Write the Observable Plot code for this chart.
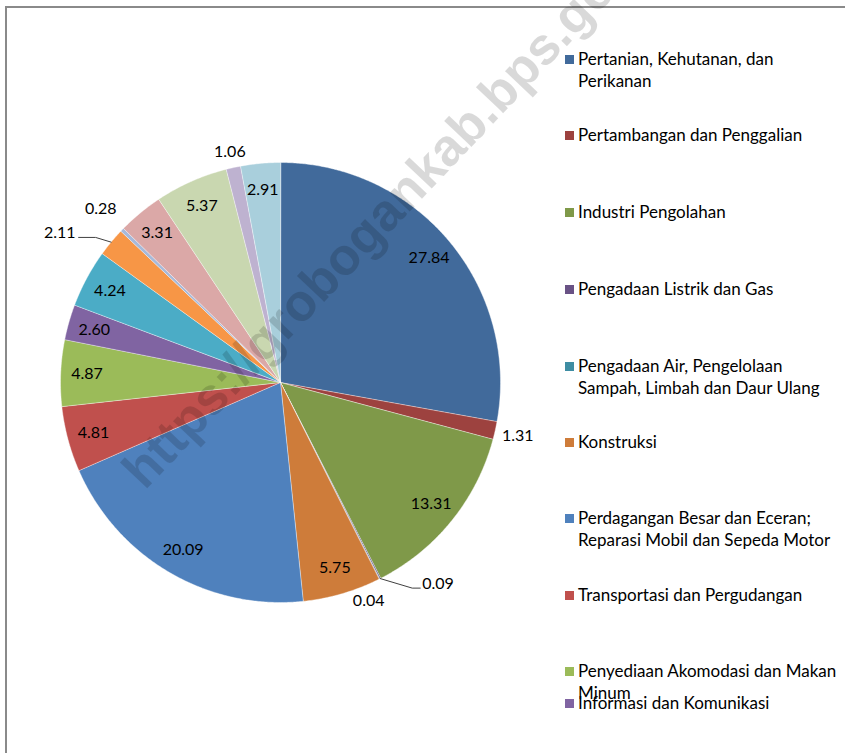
<!DOCTYPE html>
<html><head><meta charset="utf-8">
<script src="https://cdn.jsdelivr.net/npm/d3@7"></script>
<script src="https://cdn.jsdelivr.net/npm/@observablehq/plot@0.6"></script>
<style>
html,body{margin:0;padding:0;background:#fff;overflow:hidden;}
#wrap{position:relative;width:845px;height:753px;overflow:hidden;font-family:Lato,"Open Sans",sans-serif;background:#fff;}
#frame{position:absolute;left:5px;top:6px;width:900px;height:800px;border-left:2px solid #8a8a8a;border-top:2px solid #8a8a8a;box-sizing:border-box;}
#chart{position:absolute;left:0;top:0;}
.item{position:absolute;left:565px;font-size:17px;line-height:22px;color:#000;white-space:nowrap;}
.sw{position:absolute;left:0;top:7px;width:9px;height:9px;}
.txt{position:absolute;left:13px;top:0;}
#wm{position:absolute;left:147px;top:446px;font-family:"Liberation Sans",Arial,sans-serif;font-weight:bold;font-size:52px;line-height:52px;color:rgba(0,0,0,0.15);white-space:nowrap;transform-origin:0 47px;transform:rotate(-46.5deg);pointer-events:none;}
</style></head>
<body>
<div id="wrap">
  <div id="frame"></div>
  <div id="chart"></div>
  <div id="legend"></div>
  <div id="wm">https://grobogankab.bps.go.id</div>
</div>
<script>
// ---- data ----
const categories = [
  "Pertanian, Kehutanan, dan Perikanan",
  "Pertambangan dan Penggalian",
  "Industri Pengolahan",
  "Pengadaan Listrik dan Gas",
  "Pengadaan Air, Pengelolaan Sampah, Limbah dan Daur Ulang",
  "Konstruksi",
  "Perdagangan Besar dan Eceran; Reparasi Mobil dan Sepeda Motor",
  "Transportasi dan Pergudangan",
  "Penyediaan Akomodasi dan Makan Minum",
  "Informasi dan Komunikasi",
  "Jasa Keuangan dan Asuransi",
  "Real Estate",
  "Jasa Perusahaan",
  "Administrasi Pemerintahan, Pertahanan dan Jaminan Sosial Wajib",
  "Jasa Pendidikan",
  "Jasa Kesehatan dan Kegiatan Sosial",
  "Jasa Lainnya"
];
const values = [27.84, 1.31, 13.31, 0.09, 0.04, 5.75, 20.09, 4.81, 4.87, 2.60, 4.24, 2.11, 0.28, 3.31, 5.37, 1.06, 2.91];
const valueLabels = ["27.84","1.31","13.31","0.09","0.04","5.75","20.09","4.81","4.87","2.60","4.24","2.11","0.28","3.31","5.37","1.06","2.91"];

// ---- styles / layout (kept separate from data) ----
const colors = ["#416A9B","#9D423F","#7F9949","#695285","#3E8DA3","#CE7C3A",
                "#4F81BD","#C0504D","#9BBB59","#8064A2","#4BACC6","#F79646",
                "#A7B9D9","#DBA8A7","#C9D7B0","#BEB2D0","#A9CFDC"];
const W = 845, H = 753, CX = 280, CY = 382, R = 220;
const insideR = 0.88;
const labelLayout = {
  1:  {r: 1.105},
  3:  {angle: 145.8, r: 1.13, leader: true, anchor: "start", elbow: 8},
  4:  {angle: 158, r: 1.07},
  11: {angle: 305.7, r: 1.13, leader: true, anchor: "end", elbow: 17},
  12: {r: 1.135},
  15: {r: 1.073}
};
const legendRowY = [59, 135, 212, 289, 366, 442, 518, 595, 671, 703];
const legendBreakAfter = {0: 3, 4: 3, 6: 4, 8: 4};

// ---- geometry ----
const total = d3.sum(values);
const deg = Math.PI / 180;
const polar = (a, r) => [CX + r * Math.sin(a), CY - r * Math.cos(a)];
let acc = 0;
const slices = values.map((v, i) => {
  const a0 = acc / total * 2 * Math.PI; acc += v;
  const a1 = acc / total * 2 * Math.PI;
  return {i, a0, a1, mid: (a0 + a1) / 2};
});
const polyPts = [];
for (const s of slices) {
  polyPts.push({i: s.i, x: CX, y: CY, c: colors[s.i]});
  const n = Math.max(2, Math.ceil((s.a1 - s.a0) / (0.4 * deg)));
  for (let k = 0; k <= n; k++) {
    const a = s.a0 + (s.a1 - s.a0) * k / n;
    const [x, y] = polar(a, R);
    polyPts.push({i: s.i, x, y, c: colors[s.i]});
  }
}
const labelPts = slices.map(s => {
  const L = labelLayout[s.i] || {};
  const a = L.angle != null ? L.angle * deg : s.mid;
  const r = (L.r != null ? L.r : insideR) * R;
  const [x, y] = polar(a, r);
  return {i: s.i, x, y, text: valueLabels[s.i], anchor: L.anchor || "middle"};
});
const leaderPts = [];
for (const s of slices) {
  const L = labelLayout[s.i];
  if (!L || !L.leader) continue;
  const [ex, ey] = polar(s.mid, R);
  const [lx, ly] = polar(L.angle * deg, L.r * R);
  const sign = L.anchor === "start" ? -1 : 1;
  leaderPts.push({i: s.i, x: ex, y: ey});
  leaderPts.push({i: s.i, x: lx + sign * L.elbow, y: ly});
  leaderPts.push({i: s.i, x: lx, y: ly});
}

const textMark = (anchor) => Plot.text(labelPts.filter(d => d.anchor === anchor), {
  x: "x", y: "y", text: "text", textAnchor: anchor,
  dx: anchor === "start" ? 2 : anchor === "end" ? -3 : 0,
  dy: anchor === "middle" ? 0 : anchor === "start" ? -4 : -5,
  fill: "#000", fontSize: 16, fontFamily: "Lato"
});

const chart = Plot.plot({
  width: W, height: H, margin: 0,
  x: {domain: [0, W], range: [0, W], axis: null},
  y: {domain: [0, H], range: [0, H], axis: null},
  color: {type: "identity"},
  style: {background: "transparent", fontFamily: "Lato"},
  marks: [
    Plot.line(polyPts, {x: "x", y: "y", z: "i", fill: "c", stroke: "#ffffff", strokeOpacity: 0.6, strokeWidth: 0.7, curve: "linear-closed"}),
    Plot.line(leaderPts, {x: "x", y: "y", z: "i", stroke: "#404040", strokeWidth: 1}),
    textMark("middle"), textMark("start"), textMark("end")
  ]
});
document.getElementById("chart").appendChild(chart);

// ---- legend (the entries visible in the reference) ----
const leg = document.getElementById("legend");
legendRowY.forEach((cy, i) => {
  const words = categories[i].split(" ");
  const b = legendBreakAfter[i];
  const html = b ? words.slice(0, b).join(" ") + "<br>" + words.slice(b).join(" ") : categories[i];
  const div = document.createElement("div");
  div.className = "item";
  div.style.top = (cy - 11) + "px";
  div.innerHTML = `<div class="sw" style="background:${colors[i]}"></div><div class="txt">${html}</div>`;
  leg.appendChild(div);
});
</script>
</body></html>
